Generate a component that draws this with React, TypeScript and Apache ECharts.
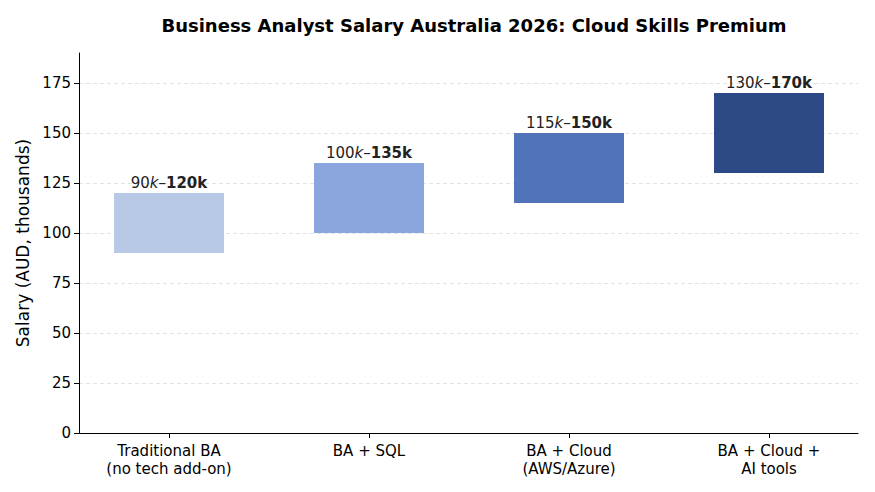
import React, { useEffect, useRef } from "react";
import * as echarts from "echarts";

const categories = ["Traditional BA\n(no tech add-on)", "BA + SQL", "BA + Cloud\n(AWS/Azure)", "BA + Cloud +\nAI tools"];
const lowValues = [90, 100, 115, 130];
const highValues = [120, 135, 150, 170];
const barColors = ["#b8c9e8", "#8ba6dc", "#5073b9", "#2d4a87"];
const yTicks = [0, 25, 50, 75, 100, 125, 150, 175];
const yAxisTop = 190;

const FONT = "DejaVu Sans";

export default function App() {
  const chartRef = useRef<HTMLDivElement | null>(null);

  useEffect(() => {
    if (!chartRef.current) return;
    const chart = echarts.init(chartRef.current, null, { renderer: "svg" });
    const yMax = yTicks[yTicks.length - 1];

    const option = {
      animation: false,
      textStyle: { fontFamily: FONT },
      title: {
        text: "Business Analyst Salary Australia 2026: Cloud Skills Premium",
        left: 469,
        top: 11,
        textAlign: "center",
        textStyle: { fontFamily: FONT, fontSize: 18, fontWeight: "bold", color: "#000" },
      },
      grid: [
        // bars + category labels (bands 200px wide)
        { left: 69, right: 6, top: 83, bottom: 59 },
        // ticks, grid lines, x axis line
        { left: 79, right: 17, top: 83, bottom: 59 },
        // full-height y spine + axis name
        { left: 79, right: 17, top: 53, bottom: 59 },
      ],
      xAxis: [
        {
          type: "category",
          gridIndex: 0,
          data: categories,
          axisLine: { show: false },
          axisTick: { show: true, alignWithLabel: true, length: 5, lineStyle: { color: "#000" } },
          axisLabel: { color: "#000", fontSize: 15, fontFamily: FONT, lineHeight: 18, margin: 9 },
        },
        {
          type: "value",
          gridIndex: 1,
          min: 0,
          max: 1,
          axisLine: { show: true, onZero: false, lineStyle: { color: "#000", width: 1 } },
          axisTick: { show: false },
          axisLabel: { show: false },
          splitLine: { show: false },
        },
        {
          type: "value",
          gridIndex: 2,
          min: 0,
          max: 1,
          show: false,
        },
      ],
      yAxis: [
        { type: "value", gridIndex: 0, min: 0, max: yMax, show: false, splitLine: { show: false } },
        {
          type: "value",
          gridIndex: 1,
          min: 0,
          max: yMax,
          interval: 25,
          axisLine: { show: false },
          axisTick: { show: true, length: 5, lineStyle: { color: "#000" } },
          axisLabel: { color: "#000", fontSize: 15, fontFamily: FONT, margin: 8 },
          splitLine: { show: true, lineStyle: { color: "#e3e3e3", type: [4, 3], width: 1 } },
        },
        {
          type: "value",
          gridIndex: 2,
          min: 0,
          max: yAxisTop,
          name: "Salary (AUD, thousands)",
          nameLocation: "middle",
          nameGap: 48,
          nameTextStyle: { fontFamily: FONT, fontSize: 17, color: "#000" },
          axisLine: { show: true, lineStyle: { color: "#000", width: 1 } },
          axisTick: { show: false },
          axisLabel: { show: false },
          splitLine: { show: false },
        },
      ],
      series: [
        {
          type: "bar",
          xAxisIndex: 0,
          yAxisIndex: 0,
          stack: "range",
          data: lowValues,
          barWidth: 110,
          itemStyle: { color: "transparent" },
          silent: true,
        },
        {
          type: "bar",
          xAxisIndex: 0,
          yAxisIndex: 0,
          stack: "range",
          barWidth: 110,
          data: highValues.map((h, i) => ({
            value: h - lowValues[i],
            itemStyle: { color: barColors[i] },
          })),
          label: {
            show: true,
            position: "top",
            distance: 3,
            formatter: (p: any) =>
              `{n|${lowValues[p.dataIndex]}}{i|k}{n|–}{b|${highValues[p.dataIndex]}k}`,
            rich: {
              n: { fontFamily: FONT, fontSize: 15, color: "#222" },
              i: { fontFamily: FONT, fontSize: 15, color: "#222", fontStyle: "italic" },
              b: { fontFamily: FONT, fontSize: 15, color: "#222", fontWeight: "bold" },
            },
          },
        },
      ],
    };

    chart.setOption(option);
    return () => {
      chart.dispose();
    };
  }, []);

  return (
    <div
      ref={chartRef}
      style={{ position: "fixed", left: 0, top: 0, width: 875, height: 492, background: "#fff" }}
    />
  );
}
